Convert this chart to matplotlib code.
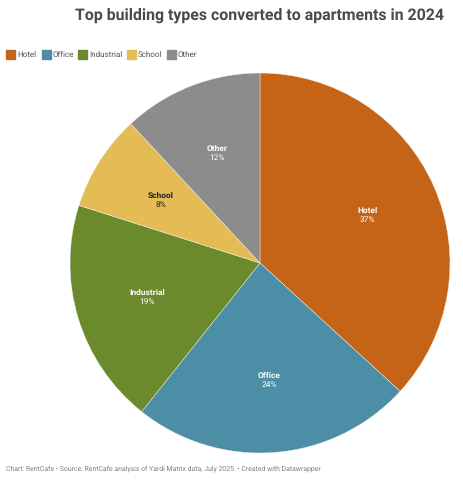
#---Import useful libraries---
import numpy as np
import matplotlib.pyplot as plt
from matplotlib.patches import Rectangle

plt.rcParams['font.family'] = ['Roboto', 'DejaVu Sans']
plt.rcParams['text.hinting'] = 'none'

#---Chart data---
categories = ["Hotel", "Office", "Industrial", "School", "Other"]
shares = [36.8, 23.9, 19.2, 8.2, 11.9]  # as measured from the slice edges
share_labels = ["37%", "24%", "19%", "8%", "12%"]
colours = ["#c56316", "#4b8ea6", "#6b8a2b", "#e4bb55", "#8c8c8c"]
label_colours = ["white", "white", "white", "#222222", "white"]
legend_x = [6, 42, 78, 127, 167]

W, H = 464, 480
fig = plt.figure(figsize=(W / 100, H / 100), dpi=100)

#---Pie, centre (260, 263) radius 190 in pixels---
cx, cy, r = 260, 263, 190
ax = fig.add_axes([(cx - r) / W, 1 - (cy + r) / H, 2 * r / W, 2 * r / H])
wedges, _ = ax.pie(shares, colors=colours, startangle=90, counterclock=False,
                   radius=1, wedgeprops={'edgecolor': '#f4f4f0', 'linewidth': 0.3})
ax.set_xlim(-1, 1)
ax.set_ylim(-1, 1)

#---Slice labels---
for w, name, val, c in zip(wedges, categories, share_labels, label_colours):
    a = np.radians((w.theta1 + w.theta2) / 2)
    x, y = 0.62 * np.cos(a), 0.62 * np.sin(a)
    ax.text(x, y + 0.023, name, color=c, fontsize=6, fontweight='bold',
            ha='center', va='center')
    ax.text(x, y - 0.023, val, color=c, fontsize=6, ha='center', va='center')

#---Title, legend and footer in pixel coordinates---
fig.text(444 / W, 1 - 15 / H, "Top building types converted to apartments in 2024",
         fontsize=11.4, fontweight='bold', color='#4a4a4a', ha='right', va='center')

for x, name, c in zip(legend_x, categories, colours):
    fig.add_artist(Rectangle((x / W, 1 - 59 / H), 9 / W, 9 / H, color=c,
                             transform=fig.transFigure))
    fig.text((x + 11) / W, 1 - 54.5 / H, name, fontsize=5.8, color='#555555',
             ha='left', va='center')

fig.text(6 / W, 1 - 469 / H,
         "Chart: RentCafe • Source: RentCafe analysis of Yardi Matrix data, July 2025  • Created with Datawrapper",
         fontsize=4.95, color='#808080', ha='left', va='center')

fig.savefig("out.png", dpi=100)
